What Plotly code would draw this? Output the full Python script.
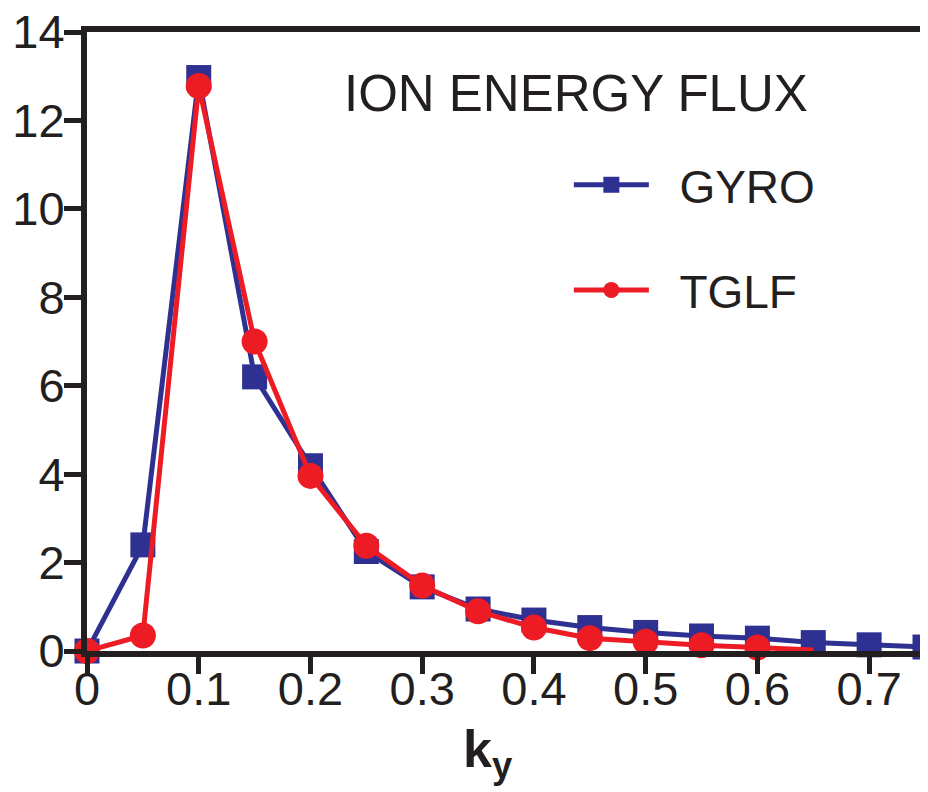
import plotly.graph_objects as go

ky = [0.0, 0.05, 0.1, 0.15, 0.2, 0.25, 0.3, 0.35, 0.4, 0.45, 0.5, 0.55, 0.6, 0.65, 0.7, 0.75]
gyro = [0.0, 2.4, 12.97, 6.2, 4.19, 2.25, 1.45, 0.95, 0.70, 0.53, 0.42, 0.34, 0.29, 0.19, 0.14, 0.09]
ky_tglf = [0.0, 0.05, 0.1, 0.15, 0.2, 0.25, 0.3, 0.35, 0.4, 0.45, 0.5, 0.55, 0.6, 0.65]
tglf = [0.0, 0.35, 12.78, 7.0, 3.96, 2.38, 1.48, 0.9, 0.53, 0.29, 0.21, 0.13, 0.08, 0.02]

x_ticks = [0, 0.1, 0.2, 0.3, 0.4, 0.5, 0.6, 0.7]
x_ticklabels = ["0", "0.1", "0.2", "0.3", "0.4", "0.5", "0.6", "0.7"]
y_ticks = [0, 2, 4, 6, 8, 10, 12, 14]

BLUE = "#2E3192"
RED = "#ED1C24"
INK = "#231F20"
FONT = "Liberation Sans, Arial, Helvetica, sans-serif"
GAP = "\u00a0\u00a0"

fig = go.Figure()
fig.add_trace(go.Scatter(
    x=ky, y=gyro, name=GAP + "GYRO", mode="lines+markers",
    line=dict(color=BLUE, width=5),
    marker=dict(symbol="square", size=25, color=BLUE, opacity=1, line=dict(width=0)),
    cliponaxis=False, legend="legend", showlegend=True,
))
tglf_sizes = [26] * (len(ky_tglf) - 1) + [0]
fig.add_trace(go.Scatter(
    x=ky_tglf, y=tglf, name=GAP + "TGLF", mode="lines+markers",
    line=dict(color=RED, width=5),
    marker=dict(symbol="circle", size=tglf_sizes, color=RED, opacity=1, line=dict(width=0)),
    cliponaxis=False, legend="legend2", showlegend=True,
))

axis_common = dict(
    showgrid=False, zeroline=False, showline=True, linecolor=INK, linewidth=6,
    mirror=True, ticks="outside", ticklen=17, tickwidth=5, tickcolor=INK,
    tickfont=dict(family=FONT, size=47, color=INK), automargin=False,
    ticklabeloverflow="allow",
)

# page body has an 8px margin: size and margins compensate for it
fig.update_layout(
    width=920, height=784,
    margin=dict(l=79, r=3, t=24, b=141),
    paper_bgcolor="white", plot_bgcolor="white",
    font=dict(family=FONT, color=INK),
    showlegend=True,
    xaxis=dict(range=[0, 0.75], tickvals=x_ticks, ticktext=x_ticklabels,
               ticklabelstandoff=-25, **axis_common),
    yaxis=dict(range=[0, 14], tickvals=y_ticks, ticklabelstandoff=-10, **axis_common),
    legend=dict(x=0.575, y=0.753, xanchor="left", yanchor="middle", bgcolor="rgba(0,0,0,0)",
                font=dict(family=FONT, size=46, color=INK), itemwidth=75),
    legend2=dict(x=0.575, y=0.583, xanchor="left", yanchor="middle", bgcolor="rgba(0,0,0,0)",
                 font=dict(family=FONT, size=46, color=INK), itemwidth=75),
    annotations=[
        dict(text="ION ENERGY FLUX", xref="paper", yref="paper", x=0.584, y=0.900,
             xanchor="center", yanchor="middle", showarrow=False,
             font=dict(family=FONT, size=51, color=INK)),
        dict(text="<b>k<sub>y</sub></b>", xref="paper", yref="paper", x=0.478, y=-0.109,
             xanchor="center", yanchor="top", showarrow=False,
             font=dict(family=FONT, size=52, color=INK)),
    ],
)

fig.write_html("out.html")
